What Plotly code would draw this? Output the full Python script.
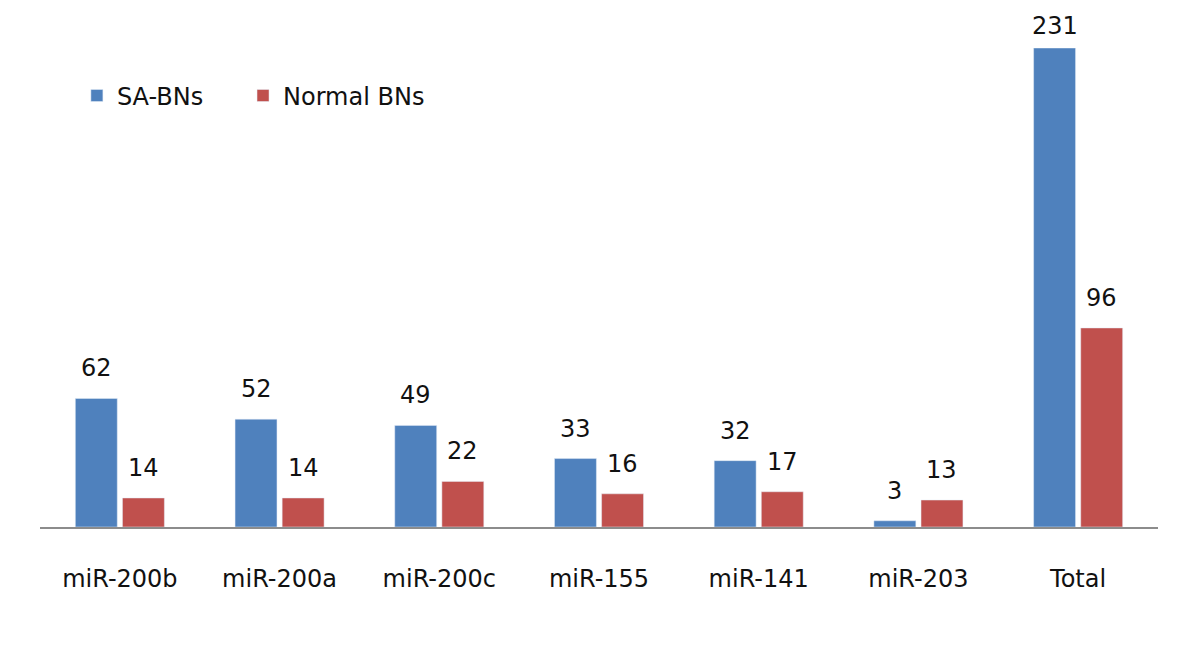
import plotly.graph_objects as go

categories = ["miR-200b", "miR-200a", "miR-200c", "miR-155", "miR-141", "miR-203", "Total"]
sa_bns = [62, 52, 49, 33, 32, 3, 231]
normal_bns = [14, 14, 22, 16, 17, 13, 96]

BLUE = "#4F81BD"
RED = "#C0504D"
FONT = "DejaVu Sans"
FS = 24
TXT = "#111"

fig = go.Figure()
fig.add_trace(go.Bar(name="SA-BNs", x=categories, y=sa_bns, marker_color=BLUE, legend="legend"))
fig.add_trace(go.Bar(name="Normal BNs", x=categories, y=normal_bns, marker_color=RED, legend="legend2"))

slot = (1118 / 7) * (1 - 0.41) / 2
ymax = max(sa_bns)
for c, v in zip(categories, sa_bns):
    fig.add_annotation(x=c, y=v, text=str(v), showarrow=False, xshift=-slot / 2,
                       yanchor="bottom", yshift=6 if v == ymax else 14,
                       font=dict(family=FONT, size=FS, color=TXT))
for c, v in zip(categories, normal_bns):
    fig.add_annotation(x=c, y=v, text=str(v), showarrow=False, xshift=slot / 2,
                       yanchor="bottom", yshift=14,
                       font=dict(family=FONT, size=FS, color=TXT))

leg_common = dict(orientation="h", y=0.9, xanchor="left", yanchor="middle",
                  font=dict(family=FONT, size=FS, color=TXT), bgcolor="rgba(0,0,0,0)")
fig.update_layout(
    width=1200, height=654,
    margin=dict(l=32, r=50, t=40, b=135),
    plot_bgcolor="white", paper_bgcolor="white",
    barmode="group", bargap=0.41, bargroupgap=0.11,
    font=dict(family=FONT, size=FS, color=TXT),
    legend=dict(x=0.033, **leg_common),
    legend2=dict(x=0.1816, **leg_common),
    showlegend=True,
)
fig.update_xaxes(showline=True, linecolor="#8c8c8c", linewidth=2, ticks="",
                 showgrid=False, ticklabelstandoff=29,
                 tickfont=dict(family=FONT, size=FS, color=TXT))
fig.update_yaxes(range=[0, 231], visible=False, showgrid=False, zeroline=False)

fig.write_html("out.html")
